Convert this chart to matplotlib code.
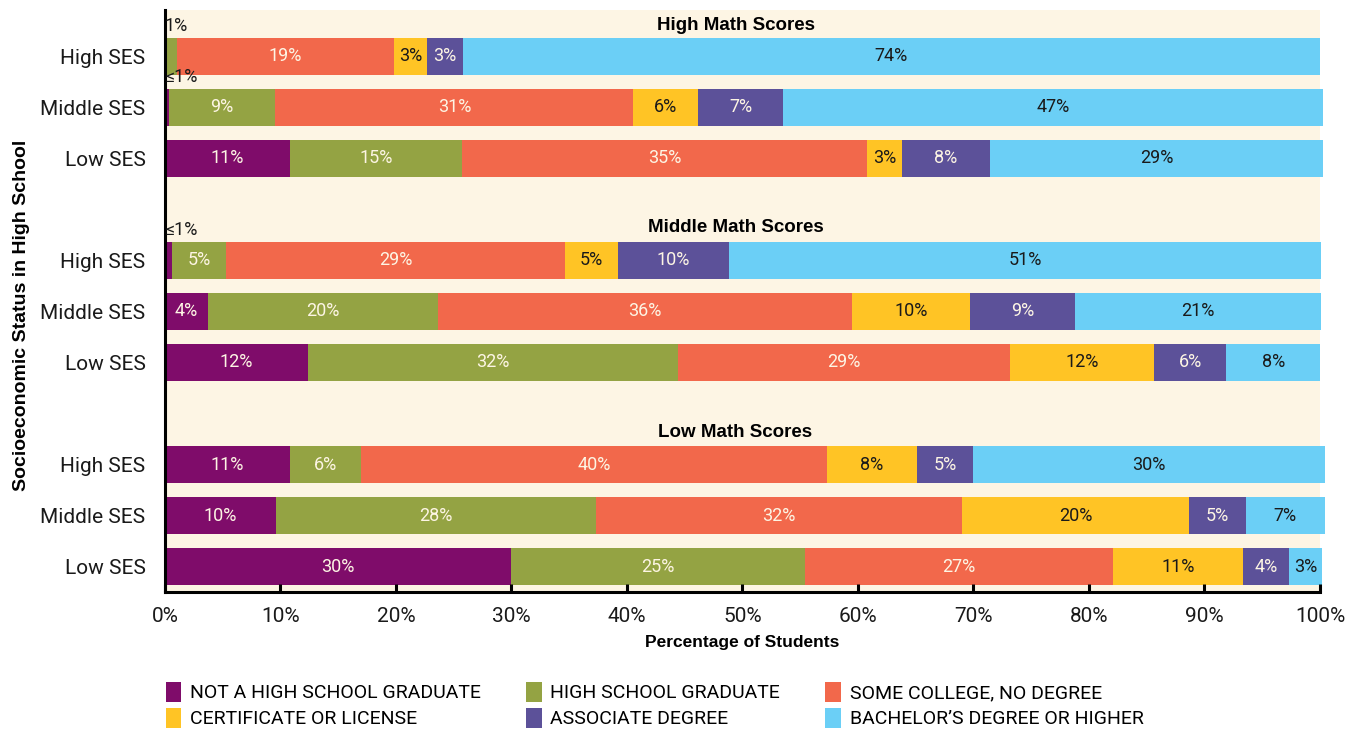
import matplotlib.pyplot as plt
from matplotlib.patches import Patch

plt.rcParams['font.family'] = ['Roboto', 'DejaVu Sans']

groups = ['High Math Scores', 'Middle Math Scores', 'Low Math Scores']
ses_levels = ['High SES', 'Middle SES', 'Low SES']
categories = ['NOT A HIGH SCHOOL GRADUATE', 'HIGH SCHOOL GRADUATE',
              'SOME COLLEGE, NO DEGREE', 'CERTIFICATE OR LICENSE',
              'ASSOCIATE DEGREE', 'BACHELOR\u2019S DEGREE OR HIGHER']
colors = ['#7f0c6a', '#94a343', '#f2684b', '#ffc425', '#5c5199', '#6bcff6']
label_colors = ['#fdf5e4', '#fdf5e4', '#fdf5e4', '#1a1a1a', '#fdf5e4', '#1a1a1a']

# percent of students in each category, per SES row
high_math_high_ses = [0.0, 1.0, 18.8, 2.9, 3.1, 74.2]
high_math_mid_ses = [0.35, 9.2, 31.0, 5.6, 7.4, 46.7]
high_math_low_ses = [10.8, 14.9, 35.1, 3.0, 7.6, 28.9]
mid_math_high_ses = [0.6, 4.7, 29.3, 4.6, 9.6, 51.3]
mid_math_mid_ses = [3.7, 19.9, 35.9, 10.2, 9.1, 21.3]
mid_math_low_ses = [12.4, 32.0, 28.8, 12.4, 6.3, 8.1]
low_math_high_ses = [10.8, 6.2, 40.3, 7.8, 4.9, 30.4]
low_math_mid_ses = [9.6, 27.7, 31.7, 19.7, 4.9, 6.8]
low_math_low_ses = [30.0, 25.4, 26.7, 11.2, 4.0, 2.9]

rows = [high_math_high_ses, high_math_mid_ses, high_math_low_ses,
        mid_math_high_ses, mid_math_mid_ses, mid_math_low_ses,
        low_math_high_ses, low_math_mid_ses, low_math_low_ses]
row_pos = [0, 1, 2, 4, 5, 6, 8, 9, 10]
header_pos = [-0.6, 3.35, 7.38]
bar_h = 0.73

fig = plt.figure(figsize=(13.58, 7.31), dpi=100)
ax = fig.add_axes([0.1215, 0.190, 0.8505, 0.796])
ax.set_facecolor('#fdf5e4')

for y, vals in zip(row_pos, rows):
    left = 0
    for i, v in enumerate(vals):
        if v <= 0:
            continue
        ax.barh(y, v, left=left, height=bar_h, color=colors[i], clip_on=False)
        if v >= 2:
            ax.text(left + v / 2, y, f'{v:.0f}%', ha='center', va='center',
                    fontsize=13, color=label_colors[i])
        else:
            # slivers get their label just above the bar
            txt = '\u22641%' if v < 1 else f'{v:.0f}%'
            ax.text(left, y - bar_h / 2 - 0.05, txt, ha='left', va='bottom',
                    fontsize=13, color='#1a1a1a')
        left += v

for y, g in zip(header_pos, groups):
    ax.text(49.4, y, g, ha='center', va='center', fontsize=13.5,
            fontweight='bold', family=['Liberation Sans', 'DejaVu Sans'])

ax.set_xlim(0, 100)
ax.set_ylim(10.5, -0.9)
ax.set_xticks(range(0, 101, 10))
ax.set_xticklabels([f'{t}%' for t in range(0, 101, 10)])
ax.set_yticks(row_pos)
ax.set_yticklabels(ses_levels * 3)

for s in ['top', 'right']:
    ax.spines[s].set_visible(False)
for s in ['left', 'bottom']:
    ax.spines[s].set_linewidth(2.2)
ax.tick_params(axis='x', direction='in', length=6, width=2.2, pad=11,
               labelsize=15, labelcolor='#1a1a1a')
ax.tick_params(axis='y', length=0, pad=14, labelsize=15, labelcolor='#1a1a1a')

ax.set_xlabel('Percentage of Students', fontsize=12.5, fontweight='bold',
              family=['Liberation Sans Narrow', 'Liberation Sans', 'DejaVu Sans'],
              labelpad=6)
ax.set_ylabel('Socioeconomic Status in High School', fontsize=14,
              fontweight='bold', family=['Liberation Sans', 'DejaVu Sans'])
ax.yaxis.set_label_coords(-0.117, 0.476)

# legend fills column-wise, so reorder to get the rows right
order = [0, 3, 1, 4, 2, 5]
handles = [Patch(facecolor=colors[i], label=categories[i]) for i in order]
fig.legend(handles=handles, loc='lower left', bbox_to_anchor=(0.109, -0.02),
           ncol=3, frameon=False, handlelength=0.8,
           handleheight=1.2, handletextpad=0.45, columnspacing=2.33,
           labelspacing=0.28, prop={'size': 14})

fig.savefig('out.png', dpi=100)
